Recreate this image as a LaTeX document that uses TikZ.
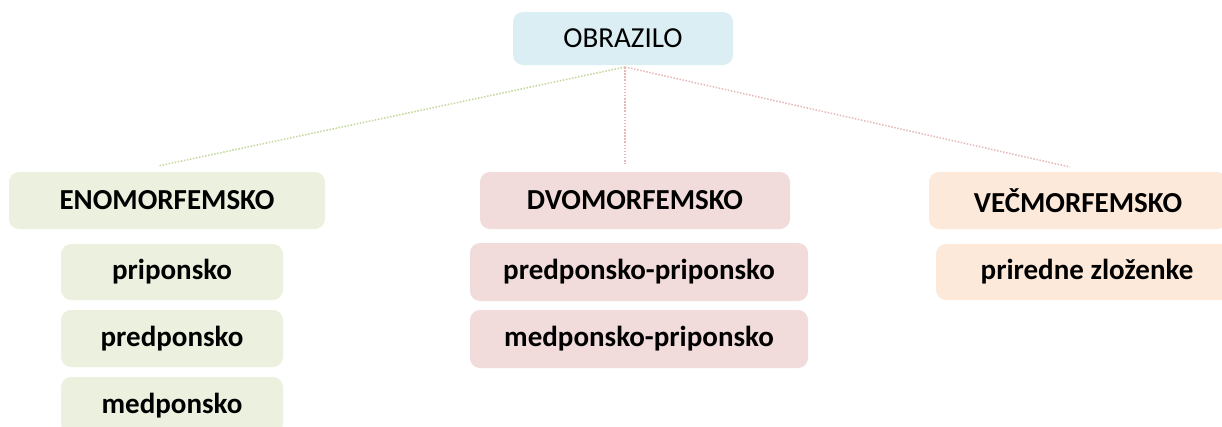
\documentclass[tikz,border=0pt]{standalone}
\usepackage{fontspec}
\setmainfont{Carlito}
\definecolor{gfill}{HTML}{EBF1DE}
\definecolor{pfill}{HTML}{F2DCDB}
\definecolor{ofill}{HTML}{FDE9D9}
\definecolor{bfill}{HTML}{DAEEF3}
\definecolor{gline}{HTML}{C3D69B}
\definecolor{pline}{HTML}{E6B9B8}
\tikzset{
  box/.style={rounded corners=10pt, inner sep=0pt, align=center,
    font=\fontsize{29}{34}\selectfont\bfseries},
  gbox/.style={box, fill=gfill},
  pbox/.style={box, fill=pfill},
  obox/.style={box, fill=ofill},
  topbox/.style={box, fill=bfill, font=\fontsize{29}{34}\selectfont},
  conn/.style={line width=1.5pt, dash pattern=on 1.5pt off 1.6pt}
}
\begin{document}
\begin{tikzpicture}[x=1pt,y=1pt]
\useasboundingbox (0,0) rectangle (1222,-426);
\clip (0,0) rectangle (1222,-426);
\node[topbox, minimum width=220pt, minimum height=53pt] (ob) at (623,-38.5) {OBRAZILO};
\node[gbox, minimum width=316pt, minimum height=57pt] (en) at (167,-200.5) {ENOMORFEMSKO};
\node[gbox, minimum width=222pt, minimum height=56pt] (pri) at (172,-272) {priponsko};
\node[gbox, minimum width=222pt, minimum height=57pt] (pred) at (172,-338.5) {predponsko};
\node[gbox, minimum width=222pt, minimum height=57pt] (med) at (172,-405.5) {medponsko};
\node[pbox, minimum width=310pt, minimum height=57pt] (dv) at (635,-200.5) {DVOMORFEMSKO};
\node[pbox, minimum width=338pt, minimum height=58pt] (pp) at (639,-272) {predponsko-priponsko};
\node[pbox, minimum width=338pt, minimum height=58pt] (mp) at (639,-339) {medponsko-priponsko};
\node[obox, minimum width=298pt, minimum height=57pt] (ve) at (1078,-200.5) {VEČMORFEMSKO};
\node[obox, minimum width=302pt, minimum height=56pt] (pz) at (1087,-272) {priredne zloženke};
\coordinate (root) at (625,-67);
\coordinate (enend) at (158,-166);
\coordinate (dvend) at (625,-164);
\coordinate (veend) at (1070,-167);
\draw[conn, gline] (root) -- (enend);
\draw[conn, pline] (root) -- (dvend);
\draw[conn, pline] (root) -- (veend);
\end{tikzpicture}
\end{document}
